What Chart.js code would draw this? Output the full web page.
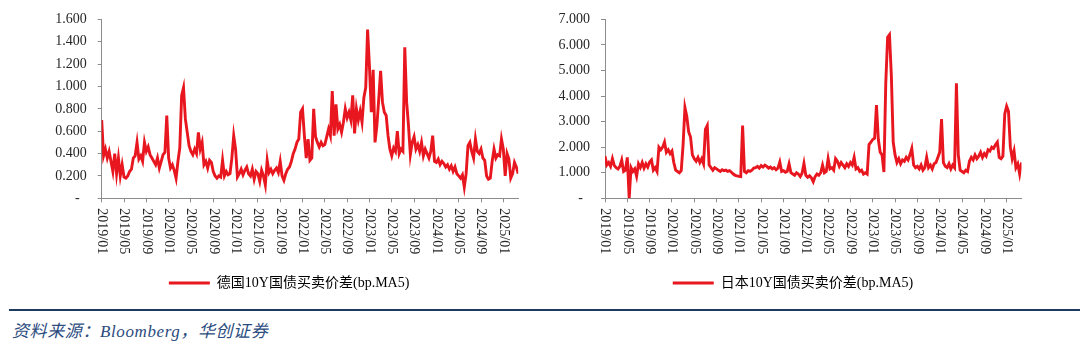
<!DOCTYPE html>
<html>
<head>
<meta charset="utf-8">
<script src="https://cdn.jsdelivr.net/npm/chart.js@4.4.0/dist/chart.umd.min.js"></script>
<style>
  html, body { margin: 0; padding: 0; background: #ffffff; }
  body { width: 1080px; height: 342px; position: relative; overflow: hidden; }
  canvas { position: absolute; top: 0; }
  #divider { position: absolute; left: 9px; top: 309px; width: 1071px; height: 2px; background: #1f3a5f; }
  #source { position: absolute; left: 12px; top: 317px; font: italic 17px "Liberation Serif", "Noto Sans CJK SC", serif; color: #2b4c7e; letter-spacing: 0.6px; white-space: nowrap; }
</style>
</head>
<body>
<canvas id="de" width="578" height="300" style="left:0px;width:578px;height:300px"></canvas>
<canvas id="jp" width="506" height="300" style="left:540px;width:506px;height:300px"></canvas>
<div id="divider"></div>
<div id="source">资料来源：Bloomberg，华创证券</div>
<script>
// ---- data: one value every 1/3 month, starting 2019/01 ----
const stepMonths = 1 / 3;
const tickLabels = ['2019/01','2019/05','2019/09','2020/01','2020/05','2020/09','2021/01','2021/05','2021/09',
  '2022/01','2022/05','2022/09','2023/01','2023/05','2023/09','2024/01','2024/05','2024/09','2025/01'];
const tickEveryMonths = 4;

const deName = '德国10Y国债买卖价差(bp.MA5)';
const deValues = [
  0.70,0.38,0.44, 0.36,0.42,0.33, 0.24,0.40,0.22, 0.36,0.20,0.30, 0.19,0.18,0.20, 0.24,0.26,0.36,
  0.38,0.50,0.35, 0.38,0.33,0.50, 0.42,0.46,0.39, 0.36,0.33,0.30, 0.36,0.27,0.33, 0.39,0.41,0.74,
  0.36,0.27,0.30, 0.25,0.18,0.33, 0.45,0.92,0.99, 0.71,0.59,0.47, 0.42,0.39,0.44, 0.40,0.59,0.44,
  0.50,0.30,0.33, 0.27,0.34,0.32, 0.24,0.20,0.18, 0.20,0.19,0.34, 0.20,0.24,0.21, 0.22,0.36,0.56,
  0.44,0.19,0.22, 0.26,0.21,0.25, 0.28,0.22,0.20, 0.26,0.17,0.24, 0.22,0.15,0.25, 0.20,0.12,0.34,
  0.23,0.26,0.22, 0.25,0.27,0.23, 0.33,0.20,0.16, 0.22,0.26,0.28, 0.33,0.40,0.44, 0.50,0.53,0.77,
  0.80,0.56,0.36, 0.53,0.34,0.36, 0.80,0.55,0.50, 0.46,0.50,0.47, 0.48,0.55,0.62, 0.56,0.96,0.56,
  0.84,0.62,0.66, 0.59,0.68,0.80, 0.72,0.77,0.70, 0.92,0.58,0.80, 0.70,0.78,0.68, 0.90,0.99,1.51,
  1.18,0.77,1.15, 0.50,0.65,0.89, 1.14,0.86,0.77, 0.74,0.56,0.44, 0.38,0.45,0.42, 0.60,0.40,0.44,
  0.42,1.35,0.86, 0.65,0.39,0.50, 0.55,0.44,0.48, 0.42,0.50,0.38, 0.44,0.40,0.36, 0.42,0.56,0.33,
  0.32,0.35,0.30, 0.33,0.31,0.28, 0.30,0.26,0.29, 0.24,0.28,0.22, 0.20,0.18,0.21, 0.10,0.22,0.47,
  0.50,0.42,0.36, 0.53,0.42,0.40, 0.44,0.36,0.34, 0.20,0.17,0.18, 0.33,0.44,0.36, 0.39,0.38,0.53,
  0.44,0.20,0.40, 0.35,0.18,0.22, 0.32,0.28,0.22
];

const jpName = '日本10Y国债买卖价差(bp.MA5)';
const jpValues = [
  1.65,1.30,1.40, 1.25,1.55,1.28, 1.20,1.15,1.25, 1.50,1.05,1.10, 1.60,0.00,1.20, 1.05,1.15,0.86,
  1.35,1.20,1.40, 1.18,1.35,1.22, 1.42,1.50,1.10, 1.20,1.05,2.00, 1.90,2.00,2.20, 1.80,1.90,1.75,
  1.85,1.40,1.10, 1.05,1.00,1.08, 2.10,3.55,3.20, 2.60,2.40,1.70, 1.55,1.45,1.60, 1.40,1.55,1.35,
  2.70,2.85,1.30, 1.20,1.10,1.20, 1.15,1.10,1.05, 1.12,1.08,1.10, 1.05,1.08,1.02, 0.95,0.90,0.88,
  0.86,0.85,2.85, 1.05,1.00,1.08, 1.05,1.10,1.18, 1.20,1.25,1.18, 1.28,1.22,1.30, 1.25,1.18,1.22,
  1.15,1.20,1.12, 1.18,1.42,1.05, 1.08,1.02,1.05, 1.35,1.00,0.95, 0.90,1.00,0.95, 0.85,0.98,1.36,
  0.90,0.82,0.88, 0.80,0.65,0.85, 0.95,0.90,1.00, 1.30,1.00,1.05, 1.55,1.15,1.20, 1.10,1.55,1.45,
  1.25,1.40,1.30, 1.20,1.35,1.25, 1.40,1.30,1.60, 1.15,1.20,1.05, 1.10,0.95,1.00, 0.95,2.10,2.20,
  2.30,2.35,3.65, 2.30,1.80,1.70, 1.03,4.50,6.30, 6.40,4.80,2.20, 1.70,1.40,1.55, 1.35,1.50,1.45,
  1.60,1.50,1.70, 1.95,1.30,1.20, 1.25,1.15,1.30, 1.10,1.20,1.60, 1.20,1.30,1.15, 1.35,1.40,1.60,
  1.80,3.10,1.40, 1.25,1.20,1.35, 1.15,1.30,1.20, 4.50,1.70,1.10, 1.05,1.00,1.10, 1.05,1.45,1.60,
  1.50,1.70,1.55, 1.65,1.80,1.60, 1.75,1.65,1.90, 1.85,2.00,1.95, 2.10,2.20,1.60, 1.55,1.65,3.30,
  3.60,3.40,2.00, 1.55,1.85,1.20, 1.35,0.95,1.40
];

const deYTicks = { max: 1.6, step: 0.2 };
const jpYTicks = { max: 7, step: 1 };

// ---- styling ----
const RED = '#e8161e';
const AXIS = '#8c8c8c';
const TEXT = '#262626';
const FONT_FAMILY = '"Liberation Serif", "Noto Sans CJK SC", serif';

const plotBottom = 198.3;

const xLabelPlugin = {
  id: 'rotatedXLabels',
  afterDraw(chart) {
    const ctx = chart.ctx;
    const xs = chart.scales.x;
    const y0 = chart.chartArea.bottom + 10;
    ctx.save();
    ctx.font = '14px ' + FONT_FAMILY;
    ctx.fillStyle = TEXT;
    ctx.textAlign = 'left';
    ctx.textBaseline = 'middle';
    tickLabels.forEach((lab, i) => {
      const px = xs.getPixelForValue(i * tickEveryMonths);
      ctx.save();
      ctx.translate(px, y0);
      ctx.rotate(Math.PI / 2);
      ctx.fillText(lab, 0, 0);
      ctx.restore();
    });
    ctx.restore();
  }
};

// shifts the legend block horizontally so it is centred where the reference puts it
const legendShiftPlugin = {
  id: 'legendShift',
  afterLayout(chart, args, opts) {
    const lg = chart.legend;
    if (lg && opts && opts.shift) { lg.left += opts.shift; lg.right += opts.shift; }
  }
};

function makeChart(id, name, values, yt, yWidth, padRight, legendShift) {
  const pts = values.map((v, i) => ({ x: i * stepMonths, y: v }));
  const xMax = (values.length - 1) * stepMonths;
  const canvas = document.getElementById(id);
  const H = canvas.height;
  const legendH = 34;
  return new Chart(canvas, {
    type: 'line',
    data: {
      datasets: [{
        label: name,
        data: pts,
        borderColor: RED,
        backgroundColor: RED,
        borderWidth: 2.9,
        pointRadius: 0,
        tension: 0,
        fill: false
      }]
    },
    options: {
      responsive: false,
      animation: false,
      devicePixelRatio: 1,
      layout: { padding: { top: 18.3, left: 0, right: padRight, bottom: 0 } },
      plugins: {
        tooltip: { enabled: false },
        legendShift: { shift: legendShift },
        legend: {
          display: true,
          position: 'bottom',
          align: 'center',
          labels: {
            boxWidth: 41,
            boxHeight: 3,
            padding: 10,
            color: TEXT,
            font: { family: FONT_FAMILY, size: 14 },
            generateLabels: () => [{
              text: name, fillStyle: RED, strokeStyle: RED, lineWidth: 0, datasetIndex: 0
            }]
          }
        }
      },
      scales: {
        x: {
          type: 'linear',
          min: 0,
          max: xMax,
          afterBuildTicks: (scale) => {
            scale.ticks = tickLabels.map((_, i) => ({ value: i * tickEveryMonths }));
          },
          afterFit: (scale) => { scale.height = H - legendH - plotBottom; },
          border: { display: true, color: AXIS, width: 1 },
          grid: { display: true, drawOnChartArea: false, drawTicks: true, tickLength: 4, color: AXIS },
          ticks: { display: false }
        },
        y: {
          min: 0,
          max: yt.max,
          afterBuildTicks: (scale) => {
            const arr = [];
            for (let k = 0; k <= Math.round(yt.max / yt.step); k++) arr.push({ value: +(k * yt.step).toFixed(4) });
            scale.ticks = arr;
          },
          afterFit: (scale) => { scale.width = yWidth; },
          border: { display: true, color: AXIS, width: 1 },
          grid: { display: true, drawOnChartArea: false, drawTicks: true, tickLength: 4, color: AXIS },
          ticks: {
            padding: 11,
            color: TEXT,
            font: { family: FONT_FAMILY, size: 14 },
            callback: (v) => (v === 0 ? '-  ' : Number(v).toFixed(3))
          }
        }
      }
    },
    plugins: [xLabelPlugin, legendShiftPlugin]
  });
}

makeChart('de', deName, deValues, deYTicks, 101.7, 59.8, 30);
makeChart('jp', jpName, jpValues, jpYTicks, 65, 24.5, 12.25);
</script>
</body>
</html>
